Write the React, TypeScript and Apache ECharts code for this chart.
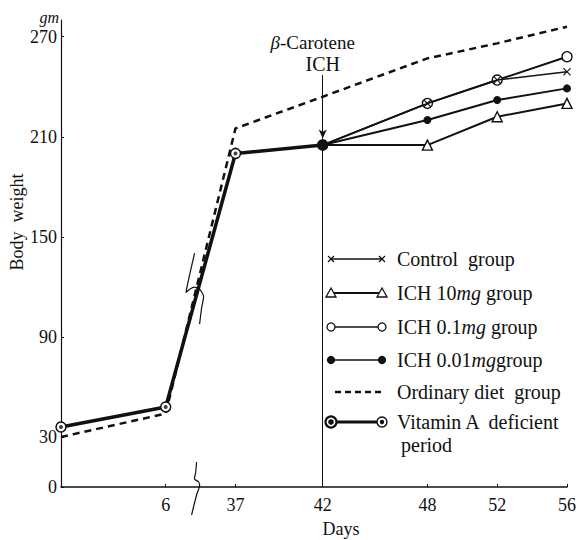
import React, { useEffect, useRef } from 'react';
import * as echarts from 'echarts';

// ---- data ----
const tickDays = [6, 37, 42, 48, 52, 56];
const yTicks = [0, 30, 90, 150, 210, 270];

const vitADays = [0, 6, 37, 42];
const vitAValues = [36, 48, 200, 205];

const ordinaryDays = [0, 6, 37, 42, 48, 52, 56];
const ordinaryValues = [30, 44, 215, 234, 257, 266, 276];

const groupDays = [42, 48, 52, 56];
const controlValues = [205, 230, 244, 249];
const ich10Values = [205, 205, 222, 230];
const ich01Values = [205, 230, 244, 258];
const ich001Values = [205, 220, 232, 239];

const arrowTop = 247;
const arrowTip = 209;

const legendNames = [
  'Control  group',
  'ICH 10{i|mg} group',
  'ICH 0.1{i|mg} group',
  'ICH 0.01{i|mg}group',
  'Ordinary diet  group',
  'Vitamin A  deficient',
];

// broken day axis: days 6..37 compressed into a gap
const BREAK_FROM = 6;
const BREAK_TO = 37;
const BREAK_GAP = 4;
const axisPos = (d: number) => (d <= BREAK_FROM ? d : d - BREAK_TO + BREAK_FROM + BREAK_GAP);

const FAMILY = '"Liberation Serif", "Times New Roman", serif';
const INK = '#111';

const crossPath =
  'path://M0,1 L1,0 L5,4 L9,0 L10,1 L6,5 L10,9 L9,10 L5,6 L1,10 L0,9 L4,5 Z';

const pts = (days: number[], vals: number[]) => days.map((d, i) => [axisPos(d), vals[i]]);
const groupData = (vals: number[], firstSize?: number) =>
  pts(groupDays, vals).map((v, i) =>
    i === 0 ? (firstSize ? { value: v, symbolSize: firstSize } : { value: v, symbol: 'none' }) : v
  );

export default function App() {
  const ref = useRef<HTMLDivElement>(null);

  useEffect(() => {
    if (!ref.current) return;
    const chart = echarts.init(ref.current, null, { renderer: 'svg' });
    const p42 = axisPos(42);
    const xMax = axisPos(56);

    const option: any = {
      animation: false,
      grid: { left: 61, right: 8, top: 20, bottom: 53 },
      xAxis: {
        type: 'value',
        min: 0,
        max: xMax,
        splitLine: { show: false },
        axisLine: { lineStyle: { color: INK, width: 1.5 } },
        axisTick: {
          show: true,
          inside: true,
          length: 3,
          customValues: tickDays.map(axisPos),
          lineStyle: { color: INK },
        },
        axisLabel: {
          customValues: tickDays.map(axisPos),
          color: INK,
          fontFamily: FAMILY,
          fontSize: 18,
          margin: 9,
          formatter: (v: number) => {
            const d = tickDays.find((t) => Math.abs(axisPos(t) - v) < 1e-6);
            return d === undefined ? '' : String(d);
          },
        },
      },
      yAxis: {
        type: 'value',
        min: 0,
        max: 280,
        splitLine: { show: false },
        axisLine: { show: true, lineStyle: { color: INK, width: 1.2 } },
        axisTick: {
          show: true,
          inside: true,
          length: 3,
          customValues: yTicks,
          lineStyle: { color: INK },
        },
        axisLabel: {
          customValues: yTicks,
          color: INK,
          fontFamily: FAMILY,
          fontSize: 18,
          margin: 4,
        },
      },
      series: [
        {
          name: 'Ordinary diet group',
          type: 'line',
          data: pts(ordinaryDays, ordinaryValues),
          symbol: 'none',
          lineStyle: { color: INK, width: 2.5, type: [7, 5] },
          markLine: {
            silent: true,
            symbol: ['none', 'none'],
            label: { show: false },
            lineStyle: { color: INK, width: 1, type: 'solid' },
            data: [
              [
                { coord: [p42, arrowTop], symbol: 'none' },
                { coord: [p42, arrowTip], symbol: 'arrow', symbolSize: [6, 9] },
              ],
              [
                { coord: [p42, arrowTip], symbol: 'none' },
                { coord: [p42, 0], symbol: 'none' },
              ],
            ],
          },
        },
        {
          name: 'Vitamin A deficient period',
          type: 'line',
          data: pts(vitADays, vitAValues),
          symbol: 'circle',
          symbolSize: 10,
          itemStyle: { color: '#fff', borderColor: INK, borderWidth: 1.5 },
          lineStyle: { color: INK, width: 3.5 },
        },
        {
          name: 'Vitamin A deficient dots',
          type: 'scatter',
          z: 5,
          data: pts(vitADays, vitAValues),
          symbolSize: 4,
          itemStyle: { color: INK },
        },
        {
          name: 'ICH 10mg group',
          type: 'line',
          z: 6,
          data: groupData(ich10Values),
          symbol: 'triangle',
          symbolSize: 10,
          itemStyle: { color: '#fff', borderColor: INK, borderWidth: 1.4 },
          lineStyle: { color: INK, width: 2 },
        },
        {
          name: 'ICH 0.1mg group',
          type: 'line',
          z: 6,
          data: groupData(ich01Values),
          symbol: 'circle',
          symbolSize: 10,
          itemStyle: { color: '#fff', borderColor: INK, borderWidth: 1.4 },
          lineStyle: { color: INK, width: 2 },
        },
        {
          name: 'Control group',
          type: 'line',
          z: 7,
          data: groupData(controlValues),
          symbol: crossPath,
          symbolSize: 8,
          itemStyle: { color: INK },
          lineStyle: { color: INK, width: 1.6 },
        },
        {
          name: 'ICH 0.01mg group',
          type: 'line',
          z: 8,
          data: groupData(ich001Values, 11),
          symbol: 'circle',
          symbolSize: 8,
          itemStyle: { color: INK },
          lineStyle: { color: INK, width: 2 },
        },
      ],
    };
    chart.setOption(option);

    const toPx = (x: number, y: number) => chart.convertToPixel({ gridIndex: 0 }, [x, y]) as number[];
    const [ax, ay] = toPx((axisPos(BREAK_FROM) + axisPos(BREAK_TO)) / 2, 0);
    const midVal = (vitAValues[1] + vitAValues[2]) / 2;
    const [lx, ly] = toPx((axisPos(BREAK_FROM) + axisPos(BREAK_TO)) / 2, midVal);
    const [tx] = toPx(p42, 0);

    const txt = (text: string, x: number, y: number, size = 20, extra: any = {}) => ({
      type: 'text',
      x,
      y,
      z: 10,
      style: {
        text,
        fill: INK,
        font: `${extra.fontStyle || 'normal'} ${size}px ${FAMILY}`,
        fontFamily: FAMILY,
        fontSize: size,
        textAlign: 'left',
        textVerticalAlign: 'middle',
        align: 'left',
        verticalAlign: 'middle',
        rich: { i: { fontStyle: 'italic', fontFamily: FAMILY, fontSize: size, fill: INK } },
        ...extra,
      },
    });

    const g: any[] = [];
    g.push(txt('gm', 59, 17, 16, { fontStyle: 'italic', textAlign: 'right', align: 'right' }));
    g.push({ ...txt('Body  weight', 17, 222, 18, { textAlign: 'center', align: 'center' }), rotation: Math.PI / 2 });
    g.push(txt('Days', 341, 529, 18, { textAlign: 'center', align: 'center' }));
    g.push(txt('{i|β}-Carotene', tx - 10, 42, 19, { textAlign: 'center', align: 'center' }));
    g.push(txt('ICH', tx, 64, 20, { textAlign: 'center', align: 'center' }));

    // axis break marks
    const rel = (cx: number, cy: number, p: number[][]) => p.map(([a, b]) => [cx + a, cy + b]);
    g.push({
      type: 'polyline',
      z: 10,
      shape: { points: rel(ax - 4, ay, [[0, -25], [-1, -14], [-2, -8], [2, -5], [3, -1], [0, 8], [-5, 28]]), smooth: 0.3 },
      style: { stroke: INK, lineWidth: 1.2, fill: 'none' },
    });
    g.push({
      type: 'polyline',
      z: 10,
      shape: { points: rel(lx - 5, ly + 8, [[-1, -35], [-9.5, 4], [-6, 1], [-1, -1], [4, 1], [8, 8], [6, 20], [4, 36]]), smooth: 0.2 },
      style: { stroke: INK, lineWidth: 1.2, fill: 'none' },
    });

    // legend
    const L1 = 331;
    const L2 = 382;
    const rows = [259, 293, 327, 360, 392, 422];
    const line = (y: number, lw: number, dash?: number[]) => ({
      type: 'line',
      z: 10,
      shape: { x1: L1, y1: y, x2: L2, y2: y },
      style: { stroke: INK, lineWidth: lw, lineDash: dash },
    });
    const cross = (x: number, y: number) => [
      { type: 'line', z: 11, shape: { x1: x - 3, y1: y - 3, x2: x + 3, y2: y + 3 }, style: { stroke: INK, lineWidth: 1.3 } },
      { type: 'line', z: 11, shape: { x1: x - 3, y1: y + 3, x2: x + 3, y2: y - 3 }, style: { stroke: INK, lineWidth: 1.3 } },
    ];
    const tri = (x: number, y: number) => ({
      type: 'polygon',
      z: 11,
      shape: { points: [[x, y - 5], [x + 5, y + 4], [x - 5, y + 4]] },
      style: { fill: '#fff', stroke: INK, lineWidth: 1.3 },
    });
    const circ = (x: number, y: number, r: number, fill: string, lw = 1.3) => ({
      type: 'circle',
      z: 11,
      shape: { cx: x, cy: y, r },
      style: { fill, stroke: INK, lineWidth: lw },
    });

    g.push(line(rows[0], 1.3), ...cross(L1, rows[0]), ...cross(L2, rows[0]));
    g.push(line(rows[1], 2.2), tri(L1, rows[1]), tri(L2, rows[1]));
    g.push(line(rows[2], 1.6), circ(L1, rows[2], 4, '#fff'), circ(L2, rows[2], 4, '#fff'));
    g.push(line(rows[3], 1.6), circ(L1, rows[3], 3.5, INK), circ(L2, rows[3], 3.5, INK));
    g.push({ ...line(rows[4], 2.5, [6, 4]), shape: { x1: L1 + 4, y1: rows[4], x2: L2, y2: rows[4] } });
    g.push(
      line(rows[5], 3.2),
      circ(L1, rows[5], 5.5, '#fff', 2.2),
      circ(L1, rows[5], 2.8, INK, 0),
      circ(L2, rows[5], 5, '#fff', 1.4),
      circ(L2, rows[5], 2.2, INK, 0)
    );
    legendNames.forEach((n, i) => g.push(txt(n, 397, rows[i])));
    g.push(txt('period', 401, 445));

    chart.setOption({ graphic: g });

    return () => chart.dispose();
  }, []);

  return (
    <div
      ref={ref}
      style={{ position: 'fixed', left: 0, top: 0, width: 579, height: 540, background: '#fff' }}
    />
  );
}
